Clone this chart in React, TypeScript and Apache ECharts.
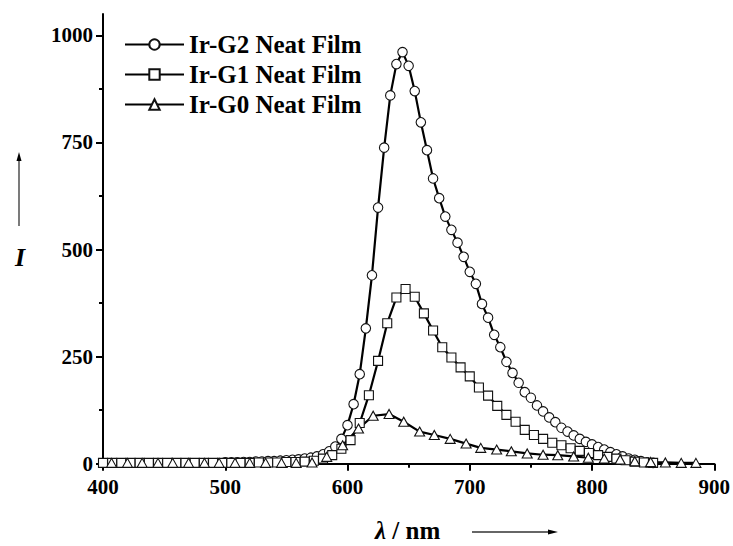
import React, { useEffect, useRef } from "react";
import * as echarts from "echarts";

const FONT = "'Liberation Serif', 'Times New Roman', serif";

const seriesNames = ["Ir-G2 Neat Film", "Ir-G1 Neat Film", "Ir-G0 Neat Film"];

const g2X = [500, 505, 510, 515, 520, 525, 530, 535, 540, 545, 550, 555, 560, 565, 570, 575, 580, 585, 590, 595,
  600, 605, 610, 615, 620, 625, 630, 635, 640, 645, 650, 655, 660, 665, 670, 675, 680, 685, 690, 695,
  700, 705, 710, 715, 720, 725, 730, 735, 740, 745, 750, 755, 760, 765, 770, 775, 780, 785, 790, 795,
  800, 805, 810, 815, 820, 825, 830, 835, 840, 845, 850];
const g2Y = [3, 3, 3, 4, 4, 5, 5, 6, 6, 7, 8, 9, 10, 12, 14, 17, 22, 29, 40, 58,
  90, 139, 209, 316, 440, 598, 738, 860, 933, 961, 929, 870, 797, 732, 666, 620, 577, 546, 516, 483,
  448, 420, 373, 341, 301, 272, 238, 212, 189, 167, 154, 136, 122, 108, 97, 84, 75, 66, 58, 51,
  45, 39, 33, 27, 22, 17, 12, 9, 6, 3, 2];

const g1X = [400, 407.5, 415, 422.5, 430, 437.5, 445, 452.5, 460, 467.5, 475, 482.5, 490, 497.5, 505, 512.5, 520,
  527.5, 535, 542.5, 550, 557.5, 565, 572.5, 580, 587.5, 595, 602.5, 610, 617.5, 625, 632.5, 640, 647.5,
  655, 662.5, 670, 677.5, 685, 692.5, 700, 707.5, 715, 722.5, 730, 737.5, 745, 752.5, 760, 767.5, 775,
  782.5, 790, 797.5, 805, 812.5, 820, 827.5, 835, 842.5, 850];
const g1Y = [2, 2, 2, 2, 2, 2, 2, 2, 2, 2, 2, 2, 2, 2, 2, 2, 2,
  3, 3, 3, 4, 4, 5, 7, 12, 20, 35, 55, 95, 160, 240, 328, 388, 408,
  390, 351, 311, 272, 248, 225, 204, 178, 159, 135, 114, 98, 79, 67, 58, 49, 43,
  36, 30, 25, 20, 16, 12, 8, 5, 3, 2];

const g0X = [407, 420, 432, 445, 457, 470, 483, 495, 508, 520, 533, 546, 558, 571, 583, 596, 609, 621, 634, 646,
  659, 671, 684, 697, 709, 722, 734, 747, 760, 772, 785, 797, 810, 823, 835, 848, 860, 873, 885];
const g0Y = [2, 2, 2, 2, 2, 2, 2, 2, 2, 2, 2, 2, 2, 3, 16, 43, 82, 112, 116, 98,
  75, 67, 58, 47, 37, 33, 29, 24, 21, 20, 17, 14, 12, 10, 6, 4, 3, 2, 2];

const yMajorTicks = [0, 250, 500, 750, 1000];
const yMinorTicks = [125, 375, 625, 875];

const zip = (xs: number[], ys: number[]) => xs.map((x, i) => [x, ys[i]]);

export default function App() {
  const ref = useRef<HTMLDivElement>(null);
  useEffect(() => {
    if (!ref.current) return;
    const chart = echarts.init(ref.current, undefined, { renderer: "svg" });
    const mkSeries = (name: string, data: number[][], symbol: string, size: any) => ({
      name,
      type: "line",
      data,
      symbol,
      symbolSize: size,
      showAllSymbol: true,
      lineStyle: { color: "#000", width: 2.2 },
      itemStyle: { color: "#fff", borderColor: "#111", borderWidth: 1.1 },
      emphasis: { disabled: true },
    });
    chart.setOption({
      animation: false,
      backgroundColor: "#fff",
      grid: { left: 103, right: 16, top: 14, bottom: 78, containLabel: false },
      legend: {
        left: 124,
        top: 32,
        orient: "vertical",
        padding: 0,
        itemWidth: 59,
        itemHeight: 13,
        itemGap: 5,
        selectedMode: false,
        textStyle: { fontFamily: FONT, fontWeight: "bold", fontSize: 25, color: "#000" },
        data: seriesNames,
      },
      xAxis: {
        type: "value",
        min: 400,
        max: 900,
        interval: 100,
        axisLine: { lineStyle: { color: "#000", width: 2 } },
        axisTick: { inside: false, length: 7, lineStyle: { color: "#000", width: 2 } },
        minorTick: { show: true, splitNumber: 2, length: 4, lineStyle: { color: "#000", width: 2 } },
        splitLine: { show: false },
        axisLabel: { margin: 8, fontFamily: FONT, fontWeight: "bold", fontSize: 21, color: "#000", formatter: (v: number) => String(v) },
      },
      yAxis: [
        {
          type: "value",
          min: -10,
          max: 1050,
          axisLine: { show: true, lineStyle: { color: "#000", width: 2 } },
          axisTick: { show: true, length: 7, customValues: yMajorTicks, lineStyle: { color: "#000", width: 2 } },
          splitLine: { show: false },
          axisLabel: { margin: 10, customValues: yMajorTicks, fontFamily: FONT, fontWeight: "bold", fontSize: 21, color: "#000", formatter: (v: number) => String(v) },
        },
        {
          type: "value",
          min: -10,
          max: 1050,
          position: "left",
          axisLine: { show: false },
          axisTick: { show: true, length: 4, customValues: yMinorTicks, lineStyle: { color: "#000", width: 2 } },
          splitLine: { show: false },
          axisLabel: { show: false },
        },
      ],
      series: [
        mkSeries(seriesNames[0], zip(g2X, g2Y), "circle", 9.5),
        mkSeries(seriesNames[1], zip(g1X, g1Y), "rect", 9),
        mkSeries(seriesNames[2], zip(g0X, g0Y), "triangle", [10, 9]),
      ],
      graphic: [
        { type: "text", x: 20, y: 257, style: { text: "I", font: `italic bold 26px ${FONT}`, fill: "#000", align: "center", verticalAlign: "middle" } },
        { type: "line", shape: { x1: 19, y1: 226, x2: 19, y2: 160 }, style: { stroke: "#333", lineWidth: 1.3 } },
        { type: "polygon", shape: { points: [[19, 152], [16.5, 161], [21.5, 161]] }, style: { fill: "#000" } },
        {
          type: "text",
          x: 375,
          y: 530,
          style: {
            text: "{i|λ}{b| / nm}",
            verticalAlign: "middle",
            rich: {
              i: { font: `italic bold 25px ${FONT}`, fill: "#000" },
              b: { font: `bold 25px ${FONT}`, fill: "#000" },
            },
          },
        },
        { type: "line", shape: { x1: 472, y1: 532, x2: 550, y2: 532 }, style: { stroke: "#333", lineWidth: 1.3 } },
        { type: "polygon", shape: { points: [[558, 532], [548, 529.5], [548, 534.5]] }, style: { fill: "#000" } },
      ],
    });
    return () => chart.dispose();
  }, []);
  return <div ref={ref} style={{ width: 733, height: 546, position: "absolute", left: 0, top: 0 }} />;
}
